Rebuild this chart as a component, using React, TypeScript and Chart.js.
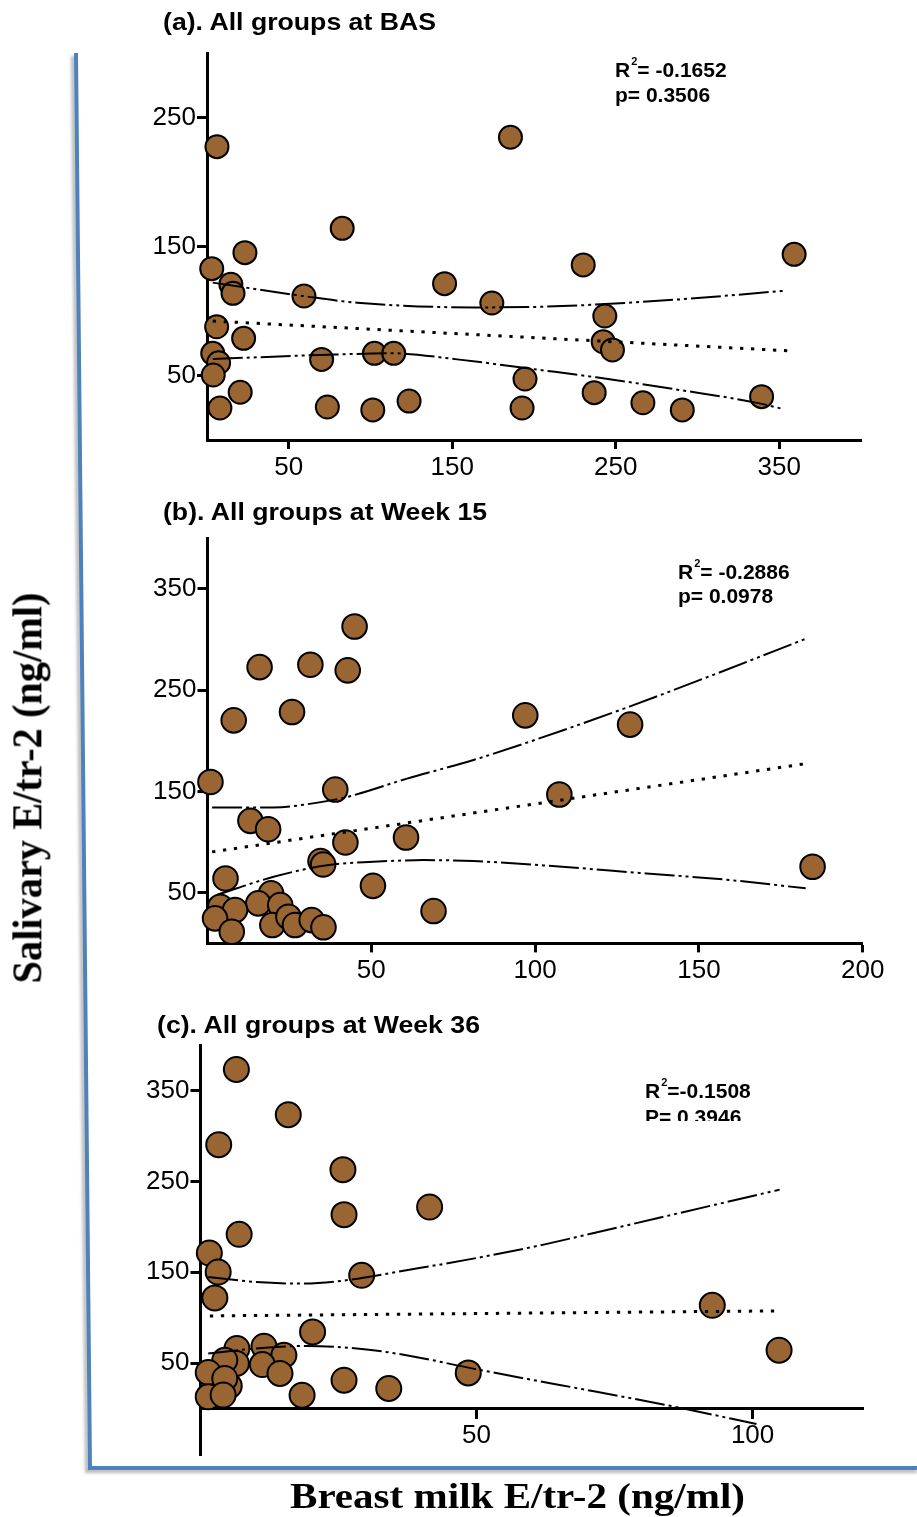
import React, { useEffect, useRef } from 'react';
import { Chart, registerables } from 'chart.js';

Chart.register(...registerables);

// ---------- Panel (a): All groups at BAS ----------
const A_X = [6.1, 2.9, 23.2, 82.7, 14.6, 15.9, 59.3, 145.3, 174.2, 5.9, 22.4, 3.5, 7.1, 3.8, 70.1, 102.4, 114.2, 20.3, 7.9, 73.6, 101.4, 123.6, 185.6, 194.5, 192.7, 230.1, 359.1, 243.3, 242.3, 248.0, 236.8, 266.6, 290.7, 339.2];
const A_Y = [227.4, 132.8, 145.2, 164.1, 120.7, 113.7, 111.6, 121.2, 106.2, 87.8, 78.8, 67.2, 59.9, 50.4, 62.5, 67.2, 67.2, 37.0, 24.8, 25.6, 23.3, 30.2, 234.7, 47.3, 24.8, 135.7, 143.9, 96.1, 76.2, 69.8, 36.7, 28.9, 23.3, 33.6];
const A_MEAN_X = [3.5, 355];
const A_MEAN_Y = [92.2, 69.2];
const A_UPPER_X = [3.5, 59, 92, 163, 208, 289, 354];
const A_UPPER_Y = [122, 111.6, 106.4, 102.8, 103.4, 109, 115.8];
const A_LOWER_X = [3.5, 69.5, 114, 153, 203.7, 238, 289, 338, 353];
const A_LOWER_Y = [62.8, 65.9, 67.2, 62.5, 54.3, 48.6, 38.8, 28.4, 23.8];
const A_XTICKS = [50, 150, 250, 350];
const A_YTICKS = [50, 150, 250];

// ---------- Panel (b): All groups at Week 15 ----------
const B_X = [0.9, 8.0, 15.9, 31.4, 42.8, 44.9, 25.8, 97.0, 39.0, 13.1, 18.5, 42.1, 60.6, 34.5, 35.3, 5.5, 50.5, 69.0, 19.4, 15.5, 3.9, 8.4, 2.3, 7.4, 22.2, 19.8, 24.7, 26.7, 31.8, 35.4, 129.0, 107.4, 184.7];
const B_Y = [159.3, 220.1, 272.6, 275.0, 269.4, 312.7, 228.3, 225.0, 151.8, 120.9, 112.7, 99.6, 104.5, 81.2, 77.9, 64.1, 56.8, 31.9, 49.4, 39.5, 36.2, 32.9, 24.7, 11.5, 37.8, 18.1, 26.3, 18.1, 23.0, 15.9, 215.9, 146.9, 75.6];
const B_MEAN_X = [1.4, 182.8];
const B_MEAN_Y = [90.3, 177.4];
const B_UPPER_X = [1.4, 20.2, 30.4, 42.6, 60.9, 81.2, 101.5, 129, 154.4, 182.6];
const B_UPPER_Y = [134.1, 134.1, 137.3, 144.5, 162.6, 181, 202.5, 233.9, 265, 300.6];
const B_LOWER_X = [3, 20.2, 36.5, 50.7, 66, 81.2, 101.5, 134, 159.5, 182.6];
const B_LOWER_Y = [48, 65.7, 77.2, 80.5, 82.2, 81.2, 77.2, 69, 62.5, 54.3];
const B_XTICKS = [50, 100, 150, 200];
const B_YTICKS = [50, 150, 250, 350];

// ---------- Panel (c): All groups at Week 36 ----------
const C_X = [6.5, 15.9, 3.3, 25.8, 26.0, 41.5, 7.0, 1.6, 3.2, 2.6, 29.2, 20.3, 6.6, 11.5, 15.1, 6.5, 4.4, 11.2, 1.4, 14.4, 5.2, 4.4, 1.4, 4.1, 18.4, 26.0, 34.1, 48.5, 92.7, 104.8];
const C_Y = [373.1, 323.3, 290.3, 262.9, 213.4, 221.8, 191.8, 171.2, 150.3, 121.8, 146.7, 84.4, 66.2, 68.7, 58.8, 49.7, 53.3, 48.5, 39.8, 38.7, 25.0, 33.2, 13.0, 15.0, 14.8, 31.3, 22.2, 39.3, 113.7, 64.3];
const C_MEAN_X = [1.7, 104];
const C_MEAN_Y = [102, 107.5];
const C_UPPER_X = [1.4, 10.1, 18, 26.4, 37.3, 49.4, 61.5, 68.7, 86.8, 104.9];
const C_UPPER_Y = [144.8, 139.3, 137.6, 141.2, 152.2, 165, 179.6, 189.6, 215.2, 240.9];
const C_LOWER_X = [1.4, 10.1, 19.2, 28.3, 37.3, 49.4, 61.5, 68.7, 86.8, 100.7];
const C_LOWER_Y = [60.7, 66.2, 69, 66.2, 58.8, 44, 30, 22, 1, -17];
const C_XTICKS = [50, 100];
const C_YTICKS = [50, 150, 250, 350];

const TITLES = ['(a). All groups at BAS', '(b). All groups at Week 15', '(c). All groups at Week 36'];
const R2_TEXT = ['= -0.1652', '= -0.2886', '=-0.1508'];
const P_TEXT = ['p= 0.3506', 'p= 0.0978', 'P= 0.3946'];
const Y_LABEL = 'Salivary E/tr-2 (ng/ml)';
const X_LABEL = 'Breast milk E/tr-2 (ng/ml)';

const POINT_FILL = '#996633';
const SANS = '"Liberation Sans", Arial, sans-serif';
const SERIF = '"Liberation Serif", "Times New Roman", serif';

const pts = (xs: number[], ys: number[]) => xs.map((x, i) => ({ x, y: ys[i] }));

type PanelProps = {
  top: number; height: number;
  yWidth: number; padRight: number; padTop: number; padBottom: number; xHeight: number;
  xMin: number; xMax: number; yMin: number; yMax: number;
  xTicks: number[]; yTicks: number[];
  xs: number[]; ys: number[];
  meanX: number[]; meanY: number[];
  upX: number[]; upY: number[];
  loX: number[]; loY: number[];
  radius: number; xAtZero?: boolean;
};

function Panel(p: PanelProps) {
  const ref = useRef<HTMLCanvasElement>(null);
  useEffect(() => {
    if (!ref.current) return;
    const band = (data: any) => ({
      type: 'line', data, borderColor: '#000', borderWidth: 2,
      borderDash: [30, 4, 3, 4, 3, 4], pointRadius: 0, fill: false,
      cubicInterpolationMode: 'monotone', order: 0, clip: false,
    });
    const tickFont = { family: SANS, size: 26 };
    const chart = new Chart(ref.current, {
      type: 'scatter',
      data: {
        datasets: [
          {
            type: 'line', data: pts(p.meanX, p.meanY), borderColor: '#000', borderWidth: 3,
            borderDash: [3.3, 7.7], pointRadius: 0, fill: false, order: 0, clip: false,
          } as any,
          band(pts(p.upX, p.upY)),
          band(pts(p.loX, p.loY)),
          {
            type: 'scatter', data: pts(p.xs, p.ys), pointRadius: p.radius, pointHoverRadius: p.radius,
            pointBackgroundColor: POINT_FILL, pointBorderColor: '#000', pointBorderWidth: 2,
            order: 1, clip: false,
          } as any,
        ],
      },
      options: {
        responsive: false,
        animation: false,
        devicePixelRatio: 1,
        events: [],
        layout: { padding: { left: 0, right: p.padRight, top: p.padTop, bottom: p.padBottom } },
        plugins: { legend: { display: false }, tooltip: { enabled: false } },
        scales: {
          x: {
            type: 'linear', min: p.xMin, max: p.xMax,
            position: p.xAtZero ? ({ y: 0 } as any) : 'bottom',
            border: { display: true, color: '#000', width: 3 },
            grid: { display: true, drawOnChartArea: false, drawTicks: true, tickLength: 9, tickWidth: 3, tickColor: '#000', color: '#000' },
            ticks: { color: '#000', font: tickFont, padding: 3, autoSkip: false, maxRotation: 0, minRotation: 0 },
            afterBuildTicks: (s: any) => { s.ticks = p.xTicks.map((v) => ({ value: v })); },
            afterFit: (s: any) => { s.height = p.xHeight; },
          },
          y: {
            type: 'linear', min: p.yMin, max: p.yMax, position: 'left',
            border: { display: true, color: '#000', width: 3 },
            grid: { display: true, drawOnChartArea: false, drawTicks: true, tickLength: 10, tickWidth: 3, tickColor: '#000', color: '#000' },
            ticks: { color: '#000', font: tickFont, padding: 1, autoSkip: false },
            afterBuildTicks: (s: any) => { s.ticks = p.yTicks.map((v) => ({ value: v })); },
            afterFit: (s: any) => { s.width = p.yWidth; },
          },
        },
      } as any,
    });
    return () => chart.destroy();
  }, []);
  return (
    <canvas
      ref={ref}
      width={917}
      height={p.height}
      style={{ position: 'absolute', left: 0, top: p.top, width: 917, height: p.height }}
    />
  );
}

let measureCtx: CanvasRenderingContext2D | null = null;
function textWidth(text: string, font: string) {
  if (!measureCtx) measureCtx = document.createElement('canvas').getContext('2d');
  measureCtx!.font = font;
  return measureCtx!.measureText(text).width;
}

function HLabel({ text, family, size, left, capCenter, width, capRatio }: any) {
  const natural = textWidth(text, `bold ${size}px ${family}`);
  const s = width / natural;
  return (
    <div
      style={{
        position: 'absolute', left, top: capCenter - size * capRatio,
        fontFamily: family, fontWeight: 'bold', fontSize: size, lineHeight: 1,
        whiteSpace: 'nowrap', transformOrigin: '0 0', transform: `scaleX(${s})`, color: '#000',
      }}
    >
      {text}
    </div>
  );
}

function VLabel({ text, family, size, cx, cy, length }: any) {
  const natural = textWidth(text, `bold ${size}px ${family}`);
  const s = length / natural;
  return (
    <div
      style={{
        position: 'absolute', left: cx - natural / 2, top: cy - size / 2, width: natural, height: size,
        fontFamily: family, fontWeight: 'bold', fontSize: size, lineHeight: 1,
        whiteSpace: 'nowrap', transformOrigin: '50% 50%', transform: `rotate(-90deg) scaleX(${s})`, color: '#000',
      }}
    >
      {text}
    </div>
  );
}

function Stats({ idx, left, c1, c2, clipBottom }: any) {
  const size = 21;
  const off = size * 0.4885;
  const box: any = {
    position: 'absolute', left, top: c1 - off - 14,
    width: 160, height: (clipBottom ?? c2 + 20) - (c1 - off - 14), overflow: 'hidden',
  };
  const line = (y: number) => ({
    position: 'absolute' as const, left: 0, top: y, fontFamily: SANS, fontWeight: 'bold' as const,
    fontSize: size, lineHeight: 1, whiteSpace: 'nowrap' as const, color: '#000',
  });
  return (
    <div style={box}>
      <div style={line(14)}>
        R<span style={{ fontSize: 11, position: 'relative', top: -12, marginLeft: 1 }}>2</span>{R2_TEXT[idx]}
      </div>
      <div style={line(14 + (c2 - c1))}>{P_TEXT[idx]}</div>
    </div>
  );
}

export default function App() {
  return (
    <div style={{ position: 'absolute', left: 0, top: 0, width: 917, height: 1517, background: '#fff', overflow: 'hidden' }}>
      <Panel
        top={0} height={490} yWidth={207} padRight={56} padTop={53} padBottom={0} xHeight={50}
        xMin={0} xMax={400} yMin={0} yMax={300} xTicks={A_XTICKS} yTicks={A_YTICKS}
        xs={A_X} ys={A_Y} meanX={A_MEAN_X} meanY={A_MEAN_Y} upX={A_UPPER_X} upY={A_UPPER_Y}
        loX={A_LOWER_X} loY={A_LOWER_Y} radius={11.5}
      />
      <Panel
        top={490} height={520} yWidth={207.5} padRight={54.3} padTop={48} padBottom={0} xHeight={66.6}
        xMin={0} xMax={200} yMin={0} yMax={400} xTicks={B_XTICKS} yTicks={B_YTICKS}
        xs={B_X} ys={B_Y} meanX={B_MEAN_X} meanY={B_MEAN_Y} upX={B_UPPER_X} upY={B_UPPER_Y}
        loX={B_LOWER_X} loY={B_LOWER_Y} radius={12.3}
      />
      <Panel
        top={1010} height={507} yWidth={200.5} padRight={54} padTop={35} padBottom={62} xHeight={0}
        xMin={0} xMax={120} yMin={-51} yMax={400} xTicks={C_XTICKS} yTicks={C_YTICKS}
        xs={C_X} ys={C_Y} meanX={C_MEAN_X} meanY={C_MEAN_Y} upX={C_UPPER_X} upY={C_UPPER_Y}
        loX={C_LOWER_X} loY={C_LOWER_Y} radius={12.5} xAtZero
      />

      <HLabel text={TITLES[0]} family={SANS} size={24} left={163} capCenter={22} width={274} capRatio={0.4885} />
      <HLabel text={TITLES[1]} family={SANS} size={24} left={163} capCenter={512} width={325} capRatio={0.4885} />
      <HLabel text={TITLES[2]} family={SANS} size={24} left={157} capCenter={1025} width={324} capRatio={0.4885} />

      <Stats idx={0} left={615} c1={69} c2={94.5} />
      <Stats idx={1} left={678} c1={570.8} c2={595.5} />
      <Stats idx={2} left={645} c1={1090.5} c2={1115.8} clipBottom={1121} />

      <VLabel text={Y_LABEL} family={SERIF} size={42} cx={27} cy={787.5} length={391} />
      <HLabel text={X_LABEL} family={SERIF} size={35} left={290} capCenter={1496.5} width={455} capRatio={0.5065} />

      <svg width={917} height={1517} style={{ position: 'absolute', left: 0, top: 0, pointerEvents: 'none' }}>
        <defs>
          <filter id="frameShadow" x="-5%" y="-5%" width="110%" height="110%">
            <feGaussianBlur stdDeviation="1.5" />
          </filter>
        </defs>
        <polyline points="73,56 87,1471 917,1471" fill="none" stroke="#8a8a8a" strokeOpacity={0.6} strokeWidth={4} filter="url(#frameShadow)" />
        <polyline points="76,53 90,1468 917,1468" fill="none" stroke="#4f81bd" strokeWidth={4} strokeLinejoin="miter" />
      </svg>
    </div>
  );
}
